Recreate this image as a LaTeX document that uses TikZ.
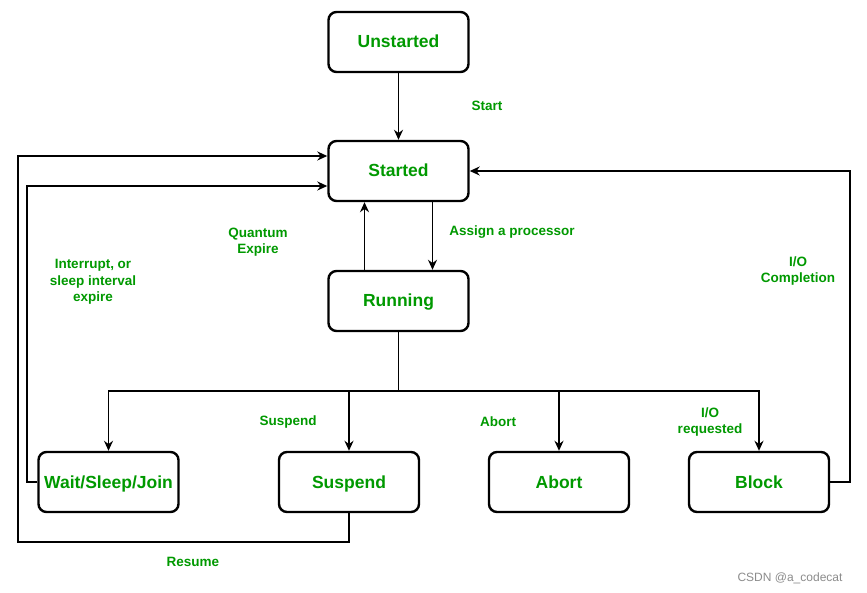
\documentclass[tikz,border=0pt]{standalone}
\usepackage{fontspec}
\setmainfont{Liberation Sans}
\usetikzlibrary{arrows.meta}
\definecolor{lblgreen}{RGB}{0,153,0}
\tikzset{
  state/.style={draw=black, line width=2.4pt, rounded corners=8pt, minimum width=140pt, minimum height=60pt, inner sep=0pt, text height=12pt, text depth=0pt, font=\bfseries\fontsize{17.5}{20}\selectfont, text=lblgreen, fill=white},
  lbl/.style={font=\bfseries\fontsize{13.5}{16.5}\selectfont, text=lblgreen, align=center, inner sep=0pt},
  conn/.style={draw=black, line width=1.9pt, -{Stealth[length=10pt,width=9pt]}},
  plain/.style={draw=black, line width=1.9pt}
}
\begin{document}
\begin{tikzpicture}[x=1pt,y=-1pt]
\useasboundingbox[fill=white] (0,0) rectangle (867,593);
\node[state] (unst) at (398.5,42) {Unstarted};
\node[state] (start) at (398.5,171) {Started};
\node[state] (run) at (398.5,301) {Running};
\node[state] (wait) at (108.5,482) {Wait/Sleep/Join};
\node[state] (susp) at (349,482) {Suspend};
\node[state] (abort) at (559,482) {Abort};
\node[state] (block) at (759,482) {Block};
\coordinate (j) at (398.5,391);
% connectors
\draw[conn] (unst) -- (start);
\draw[conn] ([xshift=34pt]start.south) -- ([xshift=34pt]run.north);
\draw[conn] ([xshift=-34pt]run.north) -- ([xshift=-34pt]start.south);
\draw[plain] (run.south) -- (j);
\draw[conn] (j) -| (wait.north);
\draw[conn] (j) -| (susp.north);
\draw[conn] (j) -| (abort.north);
\draw[conn] (j) -| (block.north);
\draw[conn] (wait.west) -- ++(-10,0) |- ([yshift=-15pt]start.west);
\draw[conn] (susp.south) -- ++(0,29) -| (18,156) -- ([yshift=15pt]start.west);
\draw[conn] (block.east) -- ++(20,0) |- (start.east);
% labels
\node[lbl] (l1) at (487,106) {Start};
\node[lbl] (l2) at (258,242) {Quantum\\Expire};
\node[lbl] (l3) at (512,232) {Assign a processor};
\node[lbl] (l4) at (93,282) {Interrupt, or\\sleep interval\\expire};
\node[lbl] (l5) at (798,271) {I/O\\Completion};
\node[lbl] (l6) at (288,422) {Suspend};
\node[lbl] (l7) at (498,422) {Abort};
\node[lbl] (l8) at (710,422) {I/O\\requested};
\node[lbl] (l9) at (193,562) {Resume};
\node[font=\fontsize{12}{14}\selectfont, text=black!45, inner sep=0pt] (wm) at (790,578) {CSDN @a\_codecat};
\end{tikzpicture}
\end{document}
